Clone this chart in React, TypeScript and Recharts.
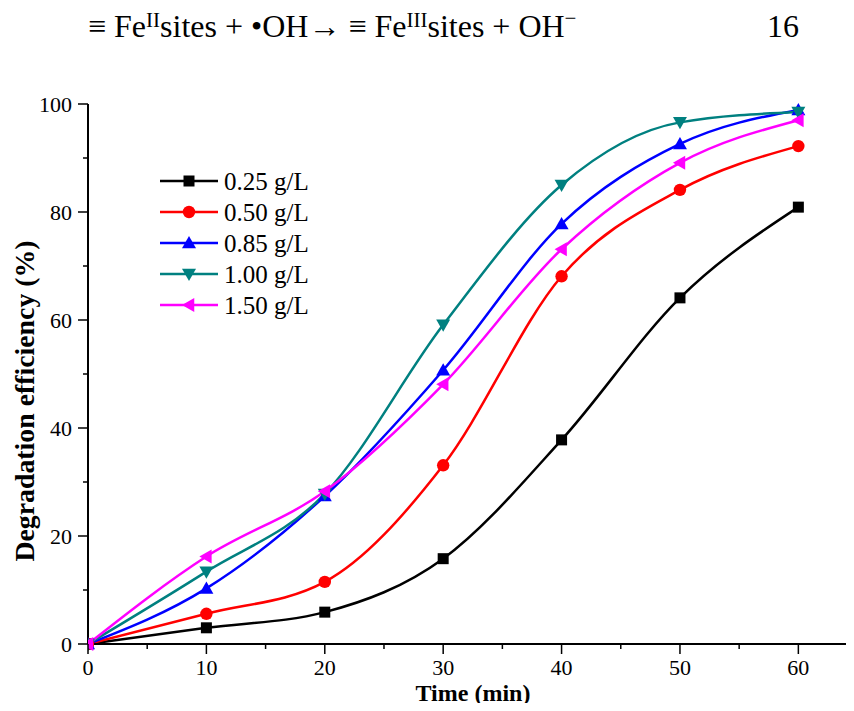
import React from "react";
import { LineChart, Line, XAxis, YAxis } from "recharts";

const times = [0, 10, 20, 30, 40, 50, 60];
const dose025 = [0, 3.0, 5.9, 15.8, 37.8, 64.1, 80.9];
const dose050 = [0, 5.6, 11.5, 33.1, 68.1, 84.1, 92.2];
const dose085 = [0, 10.3, 27.4, 50.7, 77.8, 92.6, 98.9];
const dose100 = [0, 13.4, 27.8, 59.1, 85.0, 96.6, 98.5];
const dose150 = [0, 16.2, 28.3, 48.1, 73.1, 89.1, 97.0];

const xTicks = [0, 5, 10, 15, 20, 25, 30, 35, 40, 45, 50, 55, 60];
const yTicks = [0, 10, 20, 30, 40, 50, 60, 70, 80, 90, 100];

const seriesNames = ["0.25 g/L", "0.50 g/L", "0.85 g/L", "1.00 g/L", "1.50 g/L"];

const FONT = '"Liberation Serif", "Times New Roman", serif';

type Shape = "square" | "circle" | "up" | "down" | "left";

const series: { key: string; name: string; color: string; shape: Shape; values: number[] }[] = [
  { key: "d025", name: seriesNames[0], color: "#000000", shape: "square", values: dose025 },
  { key: "d050", name: seriesNames[1], color: "#ff0000", shape: "circle", values: dose050 },
  { key: "d085", name: seriesNames[2], color: "#0000ff", shape: "up", values: dose085 },
  { key: "d100", name: seriesNames[3], color: "#008080", shape: "down", values: dose100 },
  { key: "d150", name: seriesNames[4], color: "#ff00ff", shape: "left", values: dose150 },
];

const data = times.map((t, i) => {
  const row: Record<string, number> = { time: t };
  series.forEach((s) => (row[s.key] = s.values[i]));
  return row;
});

function Marker({ cx, cy, shape, color }: { cx: number; cy: number; shape: Shape; color: string }) {
  const s = 7;
  switch (shape) {
    case "square":
      return <rect x={cx - 5.5} y={cy - 5.5} width={11} height={11} fill={color} />;
    case "circle":
      return <circle cx={cx} cy={cy} r={6.2} fill={color} />;
    case "up":
      return <polygon points={`${cx},${cy - s} ${cx - s},${cy + s * 0.75} ${cx + s},${cy + s * 0.75}`} fill={color} />;
    case "down":
      return <polygon points={`${cx},${cy + s} ${cx - s},${cy - s * 0.75} ${cx + s},${cy - s * 0.75}`} fill={color} />;
    default:
      return <polygon points={`${cx - s},${cy} ${cx + s * 0.75},${cy - s} ${cx + s * 0.75},${cy + s}`} fill={color} />;
  }
}

const dotFor = (shape: Shape, color: string) => (props: any) => (
  <Marker key={props.key ?? `${props.cx}-${props.cy}`} cx={props.cx} cy={props.cy} shape={shape} color={color} />
);

const XTick = (props: any) => {
  const { x, y, payload } = props;
  const major = payload.value % 10 === 0;
  return (
    <g>
      <line x1={x} y1={y} x2={x} y2={y + (major ? 10 : 5)} stroke="#000" strokeWidth={1.5} />
      {major && (
        <text x={x} y={y + 31} textAnchor="middle" fontFamily={FONT} fontSize={22} fill="#000">
          {payload.value}
        </text>
      )}
    </g>
  );
};

const YTick = (props: any) => {
  const { x, y, payload } = props;
  const major = payload.value % 20 === 0;
  return (
    <g>
      <line x1={x} y1={y} x2={x - (major ? 10 : 5)} y2={y} stroke="#000" strokeWidth={1.5} />
      {major && (
        <text x={x - 16} y={y + 7.5} textAnchor="end" fontFamily={FONT} fontSize={22} fill="#000">
          {payload.value}
        </text>
      )}
    </g>
  );
};

const LegendBox = () => (
  <svg width={180} height={150} style={{ display: "block" }}>
    {series.map((s, i) => {
      const y = 12 + i * 31;
      return (
        <g key={s.key}>
          <line x1={5} y1={y} x2={63} y2={y} stroke={s.color} strokeWidth={2.5} />
          <Marker cx={34} cy={y} shape={s.shape} color={s.color} />
          <text x={69} y={y + 8.5} fontFamily={FONT} fontSize={25} fill="#000">
            {s.name}
          </text>
        </g>
      );
    })}
  </svg>
);

const supStyle: React.CSSProperties = { fontSize: 21, verticalAlign: "10px", lineHeight: 0 };

export default function App() {
  return (
    <div style={{ position: "relative", width: 854, height: 711, margin: -8, background: "#fff", overflow: "hidden" }}>
      <div
        style={{
          position: "absolute",
          left: 88,
          top: 10,
          fontFamily: FONT,
          fontSize: 32,
          lineHeight: "32px",
          whiteSpace: "nowrap",
          color: "#000",
        }}
      >
        ≡ Fe<span style={supStyle}>II</span>sites + •OH→ ≡ Fe<span style={supStyle}>III</span>sites + OH
        <span style={{ ...supStyle, verticalAlign: "12px" }}>−</span>
      </div>
      <div style={{ position: "absolute", left: 767, top: 10, fontFamily: FONT, fontSize: 32, lineHeight: "32px", color: "#000" }}>
        16
      </div>

      <div style={{ position: "absolute", left: 0, top: 0 }}>
        <LineChart
          width={854}
          height={711}
          data={data}
          margin={{ top: 104, right: 0, bottom: 7, left: 28 }}
        >
          <XAxis
            dataKey="time"
            type="number"
            domain={[0, 64.7]}
            ticks={xTicks}
            interval={0}
            height={60}
            tickSize={0}
            tickMargin={0}
            tickLine={false}
            tick={<XTick />}
            axisLine={{ stroke: "#000", strokeWidth: 2 }}
            allowDataOverflow
          />
          <YAxis
            type="number"
            domain={[0, 100]}
            ticks={yTicks}
            interval={0}
            width={60}
            tickSize={0}
            tickMargin={0}
            tickLine={false}
            tick={<YTick />}
            axisLine={{ stroke: "#000", strokeWidth: 2 }}
          />
          {series.map((s) => (
            <Line
              key={s.key}
              dataKey={s.key}
              name={s.name}
              type="monotone"
              stroke={s.color}
              strokeWidth={2.5}
              dot={dotFor(s.shape, s.color)}
              activeDot={false}
              isAnimationActive={false}
            />
          ))}
        </LineChart>
      </div>

      <div style={{ position: "absolute", left: 155, top: 169 }}>
        <LegendBox />
      </div>

      <div
        style={{
          position: "absolute",
          left: 0,
          width: 946,
          top: 681,
          textAlign: "center",
          fontFamily: FONT,
          fontWeight: "bold",
          fontSize: 24,
          lineHeight: "24px",
          whiteSpace: "nowrap",
          color: "#000",
        }}
      >
        Time (min)
      </div>
      <div
        style={{
          position: "absolute",
          left: 25,
          top: 401,
          transform: "translate(-50%, -50%) rotate(-90deg)",
          fontFamily: FONT,
          fontWeight: "bold",
          fontSize: 27.8,
          lineHeight: "28px",
          whiteSpace: "nowrap",
          color: "#000",
        }}
      >
        Degradation efficiency (%)
      </div>
    </div>
  );
}
